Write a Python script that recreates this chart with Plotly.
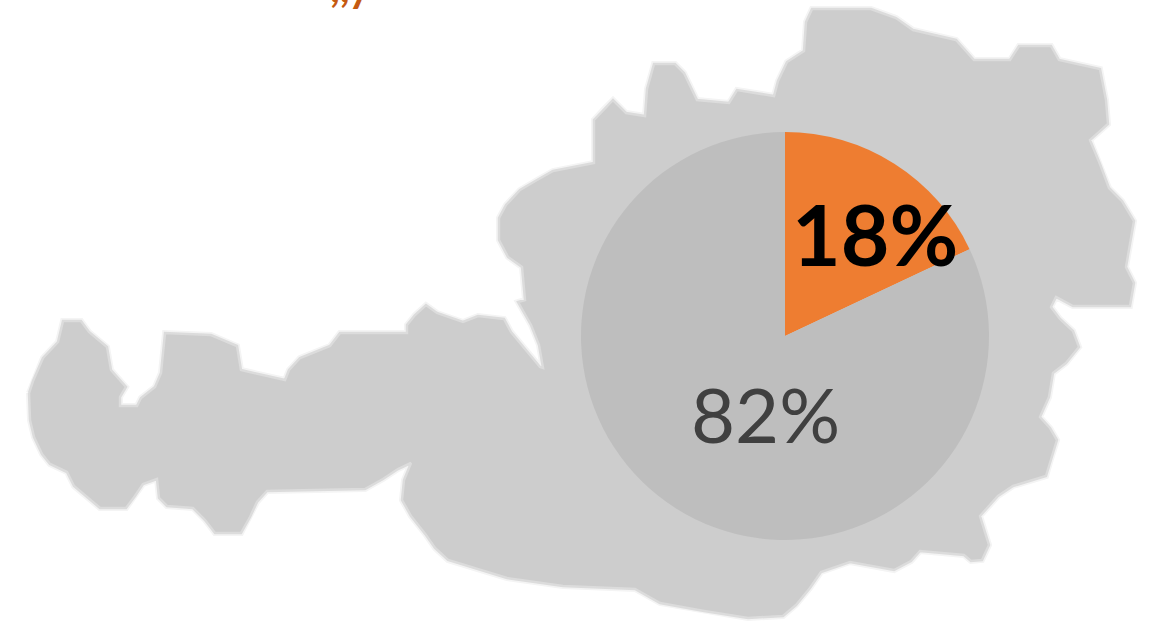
import plotly.graph_objects as go

W, H = 1153, 626
labels = ["Anteil", "Rest"]
values = [18, 82]
colors = ["#EE7D31", "#BEBEBE"]

map_x = [29,30,34,42,50,67,74,89,100,126,135,143,157,159,167,193,205,215,241,250,257,267,365,383,398,411,
         404,402,411,426,435,448,481,507,563,635,660,704,748,783,796,810,821,850,894,911,920,964,971,982,989,
         980,998,1013,1046,1051,1057,1050,1040,1049,1053,1066,1079,1073,1060,1051,1056,1073,1130,1134,1126,
         1134,1122,1109,1100,1090,1108,1106,1100,1059,1051,1019,1010,974,956,913,896,871,812,806,804,787,778,
         774,737,729,697,684,675,654,647,645,626,613,603,594,594,553,537,520,506,499,499,508,522,525,518,525,
         531,539,543,540,526,511,504,478,463,437,426,415,407,407,340,330,300,289,285,241,237,211,165,161,155,
         141,137,120,120,126,111,107,89,81,63,58,43,33,29]
map_y = [393,420,437,454,464,472,486,499,508,508,496,484,479,498,506,508,520,533,533,517,502,491,489,479,469,463,
         480,500,516,535,548,560,570,578,586,589,603,611,618,616,605,588,572,562,570,561,551,555,561,560,545,
         516,496,486,476,459,440,428,417,397,373,363,347,331,319,307,297,306,306,283,267,
         221,201,188,164,140,124,100,69,60,46,46,60,60,40,30,18,9,9,22,51,62,81,
         96,90,103,100,73,64,64,89,116,113,100,110,120,163,171,180,190,205,218,240,257,267,300,302,315,
         325,345,368,367,350,332,319,316,322,313,305,315,325,333,333,346,358,370,380,370,346,335,333,373,387,
         398,406,406,397,387,370,347,332,321,321,342,358,381,393]

top_fragment = ",,y"

fig = go.Figure()
fig.add_trace(go.Scatter(x=map_x, y=map_y, mode="lines", line=dict(color="#F4F4F4", width=6),
                         hoverinfo="skip", showlegend=False))
fig.add_trace(go.Scatter(x=map_x, y=map_y, mode="lines", fill="toself", fillcolor="#CDCDCD",
                         line=dict(color="#DCDCDC", width=2.5), hoverinfo="skip", showlegend=False))
fig.add_trace(go.Pie(labels=labels, values=values, sort=False, direction="clockwise", rotation=0,
                     marker=dict(colors=colors, line=dict(width=0)), textinfo="none", hoverinfo="skip",
                     showlegend=False,
                     domain=dict(x=[581/W, 989/W], y=[1-540/H, 1-132/H])))

fig.update_layout(
    width=W, height=H, margin=dict(l=0, r=0, t=0, b=0), paper_bgcolor="white", plot_bgcolor="white",
    xaxis=dict(range=[0, W], visible=False, fixedrange=True),
    yaxis=dict(range=[H, 0], visible=False, fixedrange=True),
    annotations=[
        dict(x=875, y=233, text=f"<b>{values[0]}%</b>", showarrow=False, xref="x", yref="y",
             font=dict(family="Lato", size=84, color="#000000")),
        dict(x=765, y=413, text=f"{values[1]}%", showarrow=False, xref="x", yref="y",
             font=dict(family="Lato", size=76, color="#404040")),
        dict(x=350, y=13, yanchor="bottom", text=f"<b>{top_fragment}</b>", showarrow=False, xref="x", yref="y",
             font=dict(family="Lato", size=42, color="#C55A11")),
    ],
)
fig.write_html("out.html", config=dict(displayModeBar=False),
               post_script="document.body.style.margin='0';document.body.style.overflow='hidden';")
